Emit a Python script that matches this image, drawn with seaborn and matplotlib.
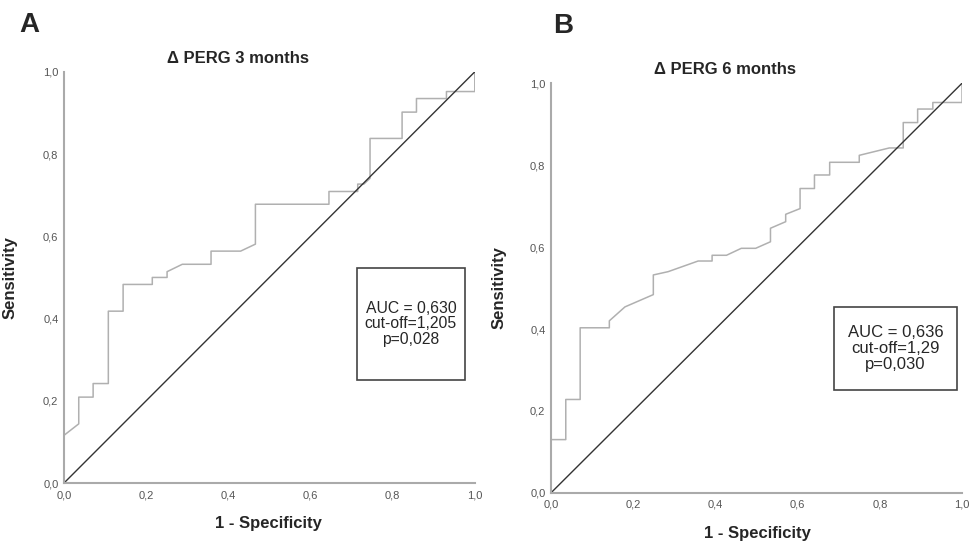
import matplotlib
matplotlib.use("Agg")
import matplotlib.pyplot as plt
import seaborn as sns
import pandas as pd
from matplotlib.patches import Rectangle
from matplotlib.ticker import FuncFormatter

sns.set_style("white")
plt.rcParams['font.family'] = ['Liberation Sans', 'DejaVu Sans']

# ROC curve vertices, panel A (Delta PERG 3 months)
fpr_3m = [0.0, 0.0, 0.036, 0.036, 0.071, 0.071, 0.108, 0.108, 0.144, 0.144,
          0.215, 0.215, 0.251, 0.251, 0.288, 0.358, 0.358, 0.430, 0.466, 0.466,
          0.645, 0.645, 0.715, 0.715, 0.730, 0.745, 0.745, 0.823, 0.823, 0.858,
          0.858, 0.931, 0.931, 1.0, 1.0]
tpr_3m = [0.0, 0.116, 0.144, 0.209, 0.209, 0.242, 0.242, 0.418, 0.418, 0.483,
          0.483, 0.500, 0.500, 0.514, 0.532, 0.532, 0.564, 0.564, 0.581, 0.678,
          0.678, 0.709, 0.709, 0.727, 0.727, 0.741, 0.838, 0.838, 0.902, 0.902,
          0.935, 0.935, 0.952, 0.952, 1.0]

# ROC curve vertices, panel B (Delta PERG 6 months)
fpr_6m = [0.0, 0.0, 0.036, 0.036, 0.071, 0.071, 0.142, 0.142, 0.180, 0.249,
          0.249, 0.285, 0.358, 0.392, 0.392, 0.427, 0.463, 0.498, 0.534, 0.534,
          0.571, 0.571, 0.606, 0.606, 0.641, 0.641, 0.678, 0.678, 0.750, 0.750,
          0.823, 0.857, 0.857, 0.892, 0.892, 0.929, 0.929, 1.0, 1.0]
tpr_6m = [0.0, 0.130, 0.130, 0.228, 0.228, 0.403, 0.403, 0.420, 0.454, 0.484,
          0.532, 0.540, 0.566, 0.566, 0.580, 0.580, 0.597, 0.597, 0.613, 0.646,
          0.662, 0.680, 0.694, 0.743, 0.743, 0.776, 0.776, 0.807, 0.807, 0.824,
          0.842, 0.842, 0.904, 0.904, 0.937, 0.937, 0.953, 0.953, 1.0]

titles = ["\u0394 PERG 3 months", "\u0394 PERG 6 months"]
panel_letters = ["A", "B"]
stats_text = ["AUC = 0,630\ncut-off=1,205\np=0,028",
              "AUC = 0,636\ncut-off=1,29\np=0,030"]

fig = plt.figure(figsize=(9.69, 5.44), dpi=100)
ax_a = fig.add_axes([0.066, 0.112, 0.424, 0.756])
ax_b = fig.add_axes([0.5686, 0.094, 0.4242, 0.753])

comma = FuncFormatter(lambda v, p: f"{v:.1f}".replace(".", ","))

curves = [(fpr_3m, tpr_3m), (fpr_6m, tpr_6m)]
# box extents in axes coords: x0, y0, w, h
boxes = [(0.713, 0.251, 0.263, 0.272), (0.689, 0.251, 0.299, 0.203)]
box_font = [11.3, 12]
box_spacing = [1.05, 1.1]
for ax, (fx, ty), title, box, txt, bf, ls in zip([ax_a, ax_b], curves, titles, boxes,
                                                 stats_text, box_font, box_spacing):
    df = pd.DataFrame({"fpr": fx, "tpr": ty})
    sns.lineplot(data=df, x="fpr", y="tpr", sort=False, estimator=None,
                 color="#b0b0b0", linewidth=1.1, ax=ax)
    sns.lineplot(x=[0, 1], y=[0, 1], color="#333333", linewidth=1.0, ax=ax)
    ax.set_xlim(0, 1)
    ax.set_ylim(0, 1)
    ax.set_xticks([0, 0.2, 0.4, 0.6, 0.8, 1.0])
    ax.set_yticks([0, 0.2, 0.4, 0.6, 0.8, 1.0])
    ax.xaxis.set_major_formatter(comma)
    ax.yaxis.set_major_formatter(comma)
    ax.tick_params(length=0, labelsize=8, labelcolor="#555555")
    ax.tick_params(axis="x", pad=5)
    ax.tick_params(axis="y", pad=4)
    for s in ["top", "right"]:
        ax.spines[s].set_visible(False)
    for s in ["left", "bottom"]:
        ax.spines[s].set_color("#aaaaaa")
        ax.spines[s].set_linewidth(1.5)
    ax.set_xlabel("1 - Specificity", fontsize=12, fontweight="bold")
    ax.set_ylabel("Sensitivity", fontsize=12, fontweight="bold")
    ax.text(0.424, 1.0 + 13.5 / 411, title, transform=ax.transAxes, ha="center", va="center",
            fontsize=12, fontweight="bold")
    ax.add_patch(Rectangle((box[0], box[1]), box[2], box[3], transform=ax.transAxes,
                           facecolor="white", edgecolor="#444444", linewidth=1.2, zorder=3))
    ax.text(box[0] + box[2] / 2, box[1] + box[3] / 2, txt, transform=ax.transAxes,
            ha="center", va="center", fontsize=bf, linespacing=ls, zorder=4)

ax_a.xaxis.set_label_coords(0.498, -0.08)
ax_a.yaxis.set_label_coords(-0.112, 0.5)
ax_b.xaxis.set_label_coords(0.503, -0.08)
ax_b.yaxis.set_label_coords(-0.107, 0.5)

fig.text(0.030, 0.954, panel_letters[0], fontsize=20, fontweight="bold", ha="center", va="center")
fig.text(0.581, 0.952, panel_letters[1], fontsize=20, fontweight="bold", ha="center", va="center")

fig.savefig("out.png", dpi=100)
